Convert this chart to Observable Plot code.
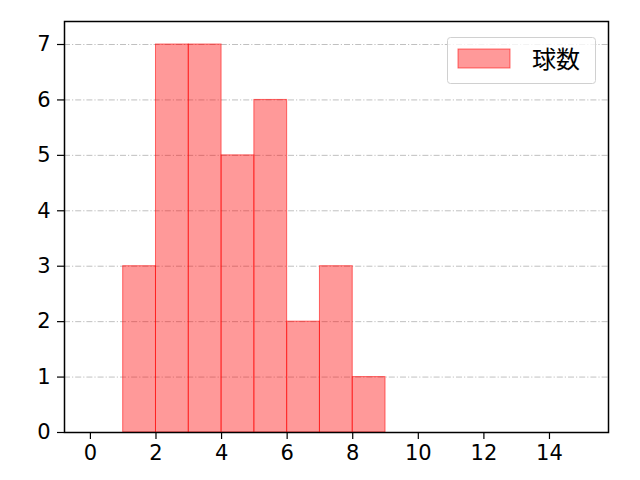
<!DOCTYPE html>
<html><head><meta charset="utf-8">
<script src="https://cdn.jsdelivr.net/npm/d3@7"></script>
<script src="https://cdn.jsdelivr.net/npm/@observablehq/plot@0.6"></script>
<style>body{margin:0;background:#fff;} #chart{position:relative;width:640px;height:480px;}</style>
</head><body><div id="chart"></div>
<script>
const binStarts = [1,2,3,4,5,6,7,8];
const binEnds = [2,3,4,5,6,7,8,9];
const counts = [3,7,7,5,6,2,3,1];
const xTicks = [0,2,4,6,8,10,12,14];
const yTicks = [0,1,2,3,4,5,6,7];
const seriesName = "球数";

const data = binStarts.map((s,i)=>({x1:s,x2:binEnds[i],y:counts[i]}));
const font = "'DejaVu Sans',sans-serif";
const cjkFont = "'Noto Sans CJK JP',sans-serif";

const plot = Plot.plot({
  width:640, height:480,
  marginLeft:64, marginRight:32, marginTop:21, marginBottom:48,
  style:{fontFamily:font, fontSize:"21px", color:"#000", background:"#fff"},
  x:{domain:[-0.79,15.8]},
  y:{domain:[0,7.415]},
  marks:[
    Plot.ruleY(yTicks.filter(d=>d>0),{stroke:"#b0b0b0",strokeWidth:0.8,strokeDasharray:"6,2,1.2,2"}),
    Plot.rectY(data,{x1:"x1",x2:"x2",y:"y",fill:"#ff0000",fillOpacity:0.4,stroke:"#ff0000",strokeOpacity:0.55,strokeWidth:1,insetLeft:0,insetRight:0}),
    Plot.axisX({ticks:xTicks,tickSize:7,tickPadding:6,fontSize:21,label:null,stroke:"#000",strokeWidth:1.2}),
    Plot.axisY({ticks:yTicks,tickSize:7,tickPadding:7,fontSize:21,label:null,stroke:"#000",strokeWidth:1.2}),
    Plot.frame({stroke:"#000",strokeWidth:1.5})
  ]
});
document.getElementById("chart").appendChild(plot);

// legend
const svg = d3.select(plot);
const g = svg.append("g");
g.append("rect").attr("x",447.5).attr("y",37.5).attr("width",148).attr("height",46).attr("rx",3)
  .attr("fill","#fff").attr("fill-opacity",0.8).attr("stroke","#d0d0d0");
g.append("rect").attr("x",458).attr("y",49).attr("width",52).attr("height",19)
  .attr("fill","#ff0000").attr("fill-opacity",0.4).attr("stroke","#ff0000").attr("stroke-opacity",0.55);
g.append("text").attr("x",532).attr("y",68).attr("font-size",24).attr("text-anchor","start")
  .attr("font-family",cjkFont).attr("fill","#000").text(seriesName);
</script></body></html>
